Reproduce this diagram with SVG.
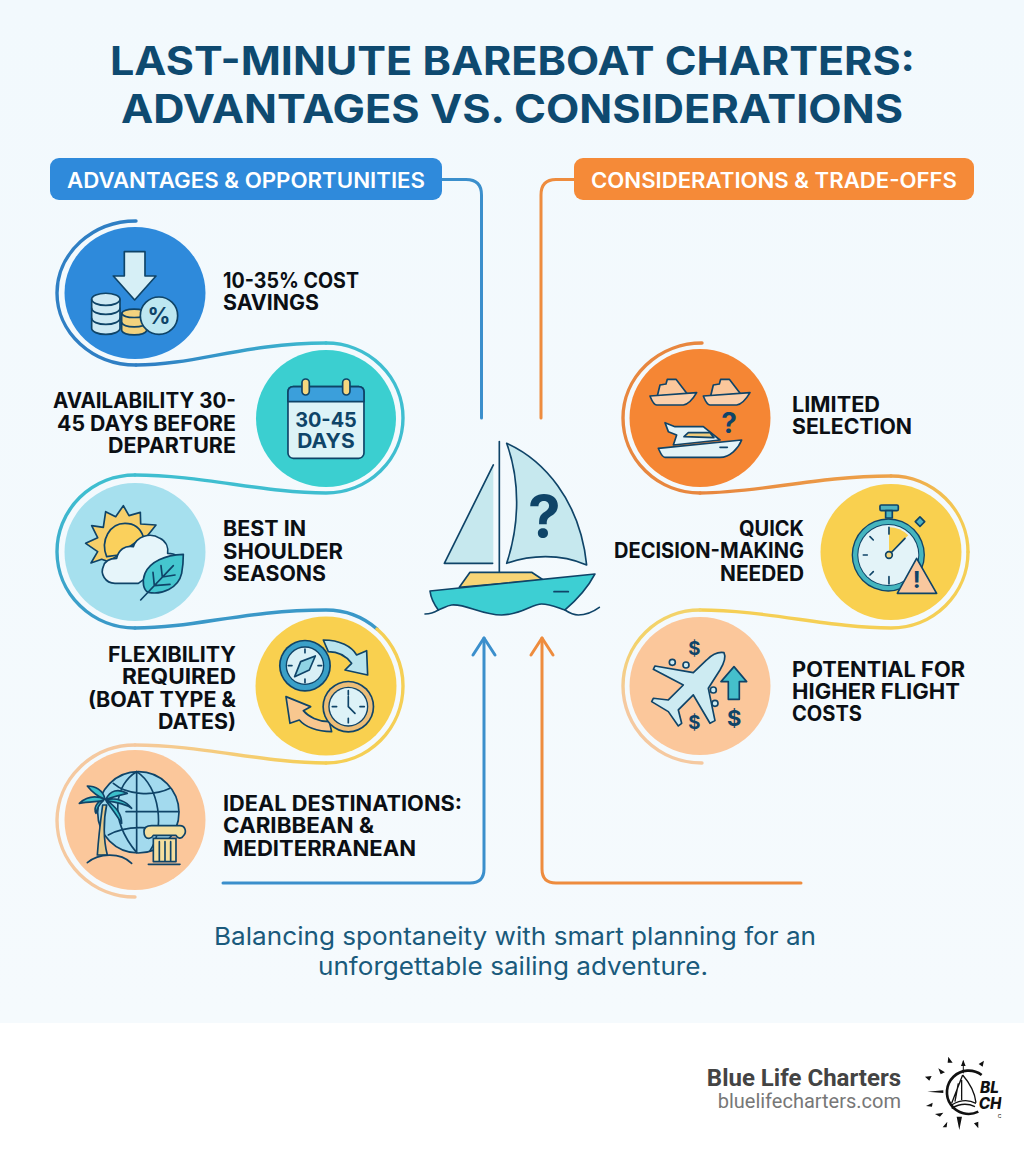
<svg xmlns="http://www.w3.org/2000/svg" width="1024" height="1154" viewBox="0 0 1024 1154">
<style>
text{font-family:"Inter","Liberation Sans",sans-serif}
.title{font-size:39px;font-weight:700;fill:#0E4A70;text-anchor:middle}
.hd{font-size:21px;font-weight:600;fill:#fff;text-anchor:middle}
.it{font-size:21px;font-weight:700;fill:#0B0F14}
.r{text-anchor:end}
.sub{font-size:24.5px;font-weight:400;fill:#1A5A7C;text-anchor:middle}
.rb{fill:none;stroke-width:3.4;stroke-linecap:round}
.cn{fill:none;stroke-width:3;stroke-linecap:round;stroke-linejoin:round}
.n{stroke:#0F4468;stroke-width:5;stroke-linejoin:round;stroke-linecap:round}
.nf{fill:none}
.lb{fill:#D6EFF6}
.ic{fill:#0F4468;font-weight:700;text-anchor:middle}
.f{font-family:Roboto,"Liberation Sans",sans-serif;text-anchor:end}
</style>
<defs>
<linearGradient id="bg" x1="0" y1="0" x2="0" y2="1"><stop offset="0" stop-color="#F2F9FD"/><stop offset="1" stop-color="#F5FAFD"/></linearGradient>
<linearGradient id="g1" gradientUnits="userSpaceOnUse" x1="150" y1="0" x2="330" y2="0"><stop offset="0" stop-color="#2F7FC4"/><stop offset="1" stop-color="#3FBED0"/></linearGradient>
<linearGradient id="g2" gradientUnits="userSpaceOnUse" x1="0" y1="490" x2="0" y2="630"><stop offset="0" stop-color="#3FBED0"/><stop offset="1" stop-color="#3A98C8"/></linearGradient>
<linearGradient id="g3" gradientUnits="userSpaceOnUse" x1="320" y1="0" x2="130" y2="0"><stop offset="0" stop-color="#F5CF55"/><stop offset="1" stop-color="#F5C9A0"/></linearGradient>
<linearGradient id="g4" gradientUnits="userSpaceOnUse" x1="710" y1="0" x2="890" y2="0"><stop offset="0" stop-color="#E8873F"/><stop offset="1" stop-color="#EDA34A"/></linearGradient>
<linearGradient id="g5" gradientUnits="userSpaceOnUse" x1="900" y1="0" x2="968" y2="0"><stop offset="0" stop-color="#EDA34A"/><stop offset="1" stop-color="#F5CF55"/></linearGradient>
<linearGradient id="g6" gradientUnits="userSpaceOnUse" x1="0" y1="640" x2="0" y2="700"><stop offset="0" stop-color="#F3D36A"/><stop offset="1" stop-color="#F5C9A0"/></linearGradient>
<clipPath id="lc"><rect x="700" y="0" width="265" height="330"/></clipPath>
</defs>
<rect id="background" width="1024" height="1023" fill="url(#bg)"/>
<rect id="footer-bg" y="1023" width="1024" height="131" fill="#fff"/>
<g id="title"><text class="title" x="512.5" y="75" textLength="805" lengthAdjust="spacingAndGlyphs">LAST-MINUTE BAREBOAT CHARTERS:</text><text class="title" x="512" y="123" textLength="782" lengthAdjust="spacingAndGlyphs">ADVANTAGES VS. CONSIDERATIONS</text></g>
<g id="connectors">
<path class="cn" stroke="#3B8FCC" d="M442,179.500 H466 Q481.500,179.500 481.500,195 V418"/>
<path class="cn" stroke="#EE8C3E" d="M574,179.500 H556 Q541,179.500 541,195 V418"/>
<path class="cn" stroke="#3B8FCC" d="M223,883 H470 Q484,883 484,869 V638"/>
<path class="cn" stroke="#EE8C3E" d="M801,883 H556 Q542,883 542,869 V638"/>
<path class="cn" stroke="#3B8FCC" d="M473,655 L484,638 L495,655"/>
<path class="cn" stroke="#EE8C3E" d="M531,655 L542,638 L553,655"/>
</g>
<g id="ribbon-left">
<path class="rb" stroke="#2F7FC4" d="M136,221 A79,72 0 0 0 57,293 A79,72 0 0 0 136,365"/>
<path class="rb" stroke="url(#g1)" d="M136,365 C195,365 245,343 326,343"/>
<path class="rb" stroke="#3FBED0" d="M326,343 A77,75 0 0 1 403,418 A77,75 0 0 1 326,493 C265,493 200,475 135,475"/>
<path class="rb" stroke="url(#g2)" d="M135,475 A78,76.500 0 0 0 57,552 A78,76.500 0 0 0 135,628"/>
<path class="rb" stroke="#3A98C8" d="M135,628 C195,628 245,610 326,610 A77,76 0 0 1 377,629"/>
<path class="rb" stroke="#F5CF55" d="M377,629 A77,76 0 0 1 403,686 A77,77 0 0 1 326,763"/>
<path class="rb" stroke="url(#g3)" d="M326,763 C265,763 200,745 135,745"/>
<path class="rb" stroke="#F5C9A0" d="M135,745 A78,76 0 0 0 57,820 A78,77 0 0 0 135,897"/>
</g>
<g id="ribbon-right">
<path class="rb" stroke="#E8873F" d="M702,343 A79,75 0 0 0 623,418 A77,75 0 0 0 700,493"/>
<path class="rb" stroke="url(#g4)" d="M700,493 C760,493 815,476 891,476"/>
<path class="rb" stroke="url(#g5)" d="M891,476 A77,76 0 0 1 968,552"/>
<path class="rb" stroke="#F5CF55" d="M968,552 A77,76 0 0 1 891,628 C830,628 765,610 700,610"/>
<path class="rb" stroke="url(#g6)" d="M700,610 A77,76 0 0 0 623,686 A79,77 0 0 0 702,763"/>
</g>
<g id="header-left"><rect x="50" y="158" width="392" height="42" rx="9" fill="#2F8ADB"/><text class="hd" x="246" y="188" textLength="358" lengthAdjust="spacingAndGlyphs">ADVANTAGES &amp; OPPORTUNITIES</text></g>
<g id="header-right"><rect x="574" y="158" width="400" height="42" rx="9" fill="#F58A38"/><text class="hd" x="774" y="188" textLength="366" lengthAdjust="spacingAndGlyphs">CONSIDERATIONS &amp; TRADE-OFFS</text></g>

<g id="node-savings">
<ellipse cx="135" cy="293" rx="70.500" ry="66" fill="#2E8ADB"/>
<g transform="translate(40,200) scale(.3333)">
<path class="n lb" d="M253,155 H315 V228 H348 L284,300 L220,228 H253Z"/>
<path class="n" fill="#CDE9F4" d="M155,298 A42,18 0 0 1 240,298 V385 A42,18 0 0 1 155,385Z"/>
<path class="n nf" d="M155,298 A42,18 0 0 0 240,298 M155,325 A42,18 0 0 0 240,325 M155,355 A42,18 0 0 0 240,355"/>
<path class="n" fill="#F2D27E" d="M245,340 A38,15 0 0 1 320,340 V392 A38,15 0 0 1 245,392Z"/>
<path class="n nf" d="M245,340 A38,15 0 0 0 320,340 M245,368 A38,15 0 0 0 320,368"/>
<circle class="n" cx="357" cy="347" r="56" fill="#BDE7F1"/>
<text class="ic" x="357" y="372" font-size="68" font-weight="500">%</text>
</g>
<text class="it" x="223" y="288" textLength="136" lengthAdjust="spacingAndGlyphs">10-35% COST</text><text class="it" x="223" y="310" textLength="96" lengthAdjust="spacingAndGlyphs">SAVINGS</text>
</g>

<g id="node-availability">
<ellipse cx="326" cy="418.500" rx="70" ry="68.500" fill="#3BCFD0"/>
<g transform="translate(40,200) scale(.3333)">
<rect class="n" x="744" y="560" width="228" height="215" rx="16" fill="#DDF3F7"/>
<path class="n" fill="#3B9FDB" d="M744,605 V576 Q744,560 760,560 H956 Q972,560 972,576 V605Z"/>
<rect class="n" x="786" y="537" width="22" height="48" rx="11" fill="#F6D77E"/>
<rect class="n" x="908" y="537" width="22" height="48" rx="11" fill="#F6D77E"/>
<text class="ic" x="858" y="682" font-size="60" textLength="185" lengthAdjust="spacingAndGlyphs">30-45</text>
<text class="ic" x="858" y="745" font-size="60" textLength="172" lengthAdjust="spacingAndGlyphs">DAYS</text>
</g>
<text class="it r" x="236" y="408" textLength="183" lengthAdjust="spacingAndGlyphs">AVAILABILITY 30-</text><text class="it r" x="236" y="431" textLength="179" lengthAdjust="spacingAndGlyphs">45 DAYS BEFORE</text><text class="it r" x="236" y="453" textLength="128" lengthAdjust="spacingAndGlyphs">DEPARTURE</text>
</g>

<g id="node-shoulder">
<ellipse cx="135" cy="552" rx="70.500" ry="69" fill="#A6E0EE"/>
<g transform="translate(75,495) scale(.3333)">
<path class="n" fill="#F6CF6A" d="M145,32 L162,62 L196,52 L197,87 L243,90 L215,125 L100,200 L80,193 L48,204 L68,170 L32,145 L68,128 L50,92 L85,97 L92,50 L122,65Z"/>
<path class="n" fill="#FAD05C" d="M95,185 C75,135 105,85 150,85 C175,85 195,95 205,125 L130,180Z"/>
<path class="n" fill="#E6F5FA" d="M190,265 H120 C90,265 75,235 85,215 C90,195 105,190 125,190 C130,165 150,150 175,155 C185,125 225,110 255,130 C275,140 280,160 278,175 C290,175 300,178 305,182 L190,265Z"/>
<path class="n" fill="#45C6CF" d="M325,178 C270,180 225,200 210,235 C200,260 205,285 220,292 C260,300 310,280 320,235 C325,210 325,190 325,178Z"/>
<path class="n nf" d="M197,315 L295,212 M238,272 L234,232 M262,246 L258,212 M238,272 L285,268 M262,246 L300,240"/>
</g>
<text class="it" x="223" y="536" textLength="83" lengthAdjust="spacingAndGlyphs">BEST IN</text><text class="it" x="223" y="559" textLength="120" lengthAdjust="spacingAndGlyphs">SHOULDER</text><text class="it" x="223" y="581" textLength="103" lengthAdjust="spacingAndGlyphs">SEASONS</text>
</g>

<g id="node-flexibility">
<ellipse cx="326" cy="686" rx="70.500" ry="69.500" fill="#F9D04F"/>
<g transform="translate(40,500) scale(.3333)">
<path class="n" fill="#B9E4EE" d="M850,420 C900,420 935,440 950,465 L980,452 L983,525 L915,510 L935,490 C920,470 895,455 865,455 Z" stroke-width="3"/>
<circle cx="795" cy="497" r="78" fill="#0F4468"/><circle cx="795" cy="497" r="73" fill="#3AA0C8"/><circle cx="795" cy="497" r="58" fill="#0F4468"/><circle cx="795" cy="497" r="54" fill="#D9F0F6"/>
<path d="M826,468 L808,510 L764,530 L782,485Z" class="n" fill="#8FD3E4" stroke-width="3.500"/>
<path class="n nf" d="M795,447 V458 M795,537 V548 M745,497 H756 M834,497 H845" stroke-width="4"/>
<path class="n" fill="#F8C78F" d="M875,695 C830,695 795,680 778,660 L750,670 L738,590 L812,620 L790,632 C805,650 835,665 868,665Z" stroke-width="3"/>
<circle cx="925" cy="620" r="78" fill="#0F4468"/><circle cx="925" cy="620" r="73" fill="#EDBE78"/><circle cx="925" cy="620" r="60" fill="#0F4468"/><circle cx="925" cy="620" r="56" fill="#DDF2F7"/>
<path class="n nf" d="M925,572 V585 M925,655 V668 M877,620 H890 M960,620 H973 M925,590 V620 L945,640" stroke-width="4"/>
</g>
<text class="it r" x="236" y="662" textLength="128" lengthAdjust="spacingAndGlyphs">FLEXIBILITY</text><text class="it r" x="236" y="684" textLength="114" lengthAdjust="spacingAndGlyphs">REQUIRED</text><text class="it r" x="236" y="707" textLength="148" lengthAdjust="spacingAndGlyphs">(BOAT TYPE &amp;</text><text class="it r" x="236" y="729" textLength="78" lengthAdjust="spacingAndGlyphs">DATES)</text>
</g>

<g id="node-destinations">
<ellipse cx="135" cy="820" rx="70.500" ry="70" fill="#FBC79B"/>
<g transform="translate(70,760) scale(.3333)">
<ellipse class="n" cx="205" cy="157" rx="122" ry="122" fill="#A3DAEE"/>
<path class="n nf" d="M200,35 C140,70 110,170 200,278 M200,35 V278 M200,35 C270,80 285,210 240,272 M168,155 H326 M130,70 C170,105 250,110 300,85 M115,225 C170,195 240,200 320,215"/>
<path class="n" fill="#E8C98A" d="M98,135 C92,180 85,240 82,285 H112 C100,240 100,180 110,135Z"/>
<path class="n" fill="#3CC0CB" d="M105,118 C75,105 50,110 28,130 C55,125 85,125 100,122 C85,135 80,150 78,160 C70,145 80,125 100,120 Z M105,118 C100,90 75,78 52,78 C65,95 85,110 105,118Z M108,118 C120,90 145,85 172,100 C150,105 125,112 108,118Z M108,120 C140,110 170,125 185,145 C165,130 130,125 108,122Z M110,122 C130,135 155,155 155,190 C140,165 125,145 110,125Z"/>
<path class="n nf" d="M52,308 C85,280 150,275 185,310"/>
<path class="n" fill="#F4DE9E" d="M250,235 H318 V305 H250Z"/>
<path class="n" fill="#F4DE9E" d="M222,215 C222,200 235,197 245,197 H330 C345,197 352,215 340,228 C335,238 322,236 318,226 H250 C245,236 232,238 226,230 C222,225 222,220 222,215Z"/>
<path class="n nf" d="M235,313 H330 M268,245 V302 M285,245 V302 M302,245 V302"/>
</g>
<text class="it" x="223" y="811" textLength="239" lengthAdjust="spacingAndGlyphs">IDEAL DESTINATIONS:</text><text class="it" x="223" y="833" textLength="151" lengthAdjust="spacingAndGlyphs">CARIBBEAN &amp;</text><text class="it" x="223" y="856" textLength="193" lengthAdjust="spacingAndGlyphs">MEDITERRANEAN</text>
</g>

<g id="node-boat">
<g transform="translate(410,400) scale(.3333)">
<path fill="#C6E8EE" d="M250,195 L103,490 H250Z"/>
<path class="n nf" d="M250,195 L103,490 H248" stroke-width="7"/>
<path class="n nf" d="M268,125 V515" stroke-width="8"/>
<path class="n" fill="#C6E8EE" stroke-width="7" d="M290,130 C400,180 510,300 530,495 C450,460 360,465 290,490 C330,370 330,240 290,130Z"/>
<text class="ic" x="403" y="412" font-size="175" font-weight="800">?</text>
<path class="n" fill="#F8D576" stroke-width="7" d="M148,562 L180,517 H365 L400,540Z"/>
<path class="n" fill="#3DCFD3" stroke-width="7" d="M60,573 L555,522 C530,570 500,600 465,630 C440,622 420,612 395,612 C365,612 335,645 275,645 C215,645 165,610 125,615 C110,617 100,625 85,630 C70,610 62,590 60,573Z"/>
<path class="n nf" stroke-width="7" d="M45,642 C60,642 72,638 85,630 M465,630 C480,640 490,645 505,645 C530,645 550,635 568,622 M432,575 H475"/>
</g>
</g>

<g id="node-selection">
<ellipse cx="700" cy="418" rx="70.500" ry="69" fill="#F58634"/>
<g transform="translate(640,370) scale(.3333)">
<path class="n" fill="#FBC79B" stroke-width="4" d="M52,78 L60,45 L78,42 L82,28 L108,28 L142,72Z"/>
<path class="n" fill="#FBD0AC" stroke-width="4" d="M30,78 L170,68 C160,85 148,103 130,105 H50 C40,105 35,90 30,78Z"/>
<path class="n" fill="#FBC79B" stroke-width="4" d="M212,78 L220,45 L238,42 L242,28 L268,28 L302,72Z"/>
<path class="n" fill="#FBD0AC" stroke-width="4" d="M190,78 L330,68 C320,85 308,103 290,105 H210 C200,105 195,90 190,78Z"/>
<path class="n" fill="#E2F3F8" stroke-width="4.500" d="M100,225 L110,195 L85,185 L75,158 L105,170 H190 L240,210Z"/>
<path class="n" fill="#F0CC7C" stroke-width="3" d="M132,200 L145,188 H210 L222,203Z"/>
<path class="n" fill="#E2F3F8" stroke-width="4.500" d="M55,235 L305,210 C295,235 270,262 240,262 H75 C65,262 60,245 55,235Z"/>
<path class="n nf" stroke-width="3.500" d="M240,232 H262"/>
<text class="ic" x="267" y="188" font-size="84" font-weight="800">?</text>
</g>
<text class="it" x="792" y="412" textLength="88" lengthAdjust="spacingAndGlyphs">LIMITED</text><text class="it" x="792" y="434" textLength="120" lengthAdjust="spacingAndGlyphs">SELECTION</text>
</g>

<g id="node-quick">
<ellipse cx="891" cy="552" rx="70.500" ry="68" fill="#F9D04F"/>
<g transform="translate(600,330) scale(.3333)">
<rect class="n" x="840" y="525" width="55" height="17" rx="4" fill="#4FB3BF" stroke-width="4"/><rect x="857" y="542" width="20" height="22" fill="#4FB3BF" class="n" stroke-width="4"/>
<rect class="n" x="950" y="565" width="20" height="20" fill="#4FB3BF" stroke-width="4" transform="rotate(45 960 575)"/>
<circle cx="865" cy="675" r="110" fill="#0F4468"/><circle cx="865" cy="675" r="106" fill="#45B5BF"/><circle cx="865" cy="675" r="93" fill="#0F4468"/><circle cx="865" cy="675" r="90" fill="#E3F3F8"/>
<path d="M867,675 V592 A84,84 0 0 1 925,616Z" fill="#F8D04F"/>
<path class="n nf" stroke-width="4" d="M867,592 V612 M867,740 V762 M790,675 H802 M810,620 L820,630 M810,735 L820,725 M867,675 L915,625"/>
<circle class="n" cx="867" cy="675" r="10" fill="#F6D77E" stroke-width="4"/>
<path class="n" fill="#F9C79E" stroke-width="5" d="M950,685 L1010,790 H892Z"/>
<text class="ic" x="950" y="775" font-size="70" font-weight="800">!</text>
</g>
<text class="it r" x="804" y="536" textLength="65" lengthAdjust="spacingAndGlyphs">QUICK</text><text class="it r" x="804" y="558" textLength="190" lengthAdjust="spacingAndGlyphs">DECISION-MAKING</text><text class="it r" x="804" y="581" textLength="84" lengthAdjust="spacingAndGlyphs">NEEDED</text>
</g>

<g id="node-flight">
<ellipse cx="700" cy="686" rx="70.500" ry="69" fill="#FBC79B"/>
<g transform="translate(600,330) scale(.3333)">
<circle class="n" cx="217" cy="997" r="9" fill="#CDEBF2" stroke-width="4"/><circle class="n" cx="258" cy="1005" r="9" fill="#CDEBF2" stroke-width="4"/><circle class="n" cx="340" cy="1080" r="9" fill="#CDEBF2" stroke-width="4"/><circle class="n" cx="345" cy="1120" r="9" fill="#CDEBF2" stroke-width="4"/>
<path class="n" fill="#CDEBF2" stroke-width="4.500" d="M372,968 C355,965 335,975 320,990 L280,1028 L165,1008 L160,1018 L250,1065 L205,1110 L160,1105 L155,1115 L205,1145 L235,1188 L245,1180 L235,1140 L280,1095 L330,1180 L345,1172 L325,1075 L360,1020 C372,1000 378,980 372,968Z"/>
<path class="n" fill="#45BFCB" stroke-width="4" d="M402,1010 L440,1055 H418 V1108 H385 V1055 H363Z"/>
<text class="ic" x="283" y="975" font-size="56" font-weight="400">$</text>
<text class="ic" x="283" y="1198" font-size="56" font-weight="400">$</text>
<text class="ic" x="403" y="1187" font-size="66" font-weight="400">$</text>
</g>
<text class="it" x="792" y="677" textLength="173" lengthAdjust="spacingAndGlyphs">POTENTIAL FOR</text><text class="it" x="792" y="699" textLength="168" lengthAdjust="spacingAndGlyphs">HIGHER FLIGHT</text><text class="it" x="792" y="721" textLength="70" lengthAdjust="spacingAndGlyphs">COSTS</text>
</g>

<g id="subtitle"><text class="sub" x="515" y="945" textLength="602" lengthAdjust="spacingAndGlyphs">Balancing spontaneity with smart planning for an</text><text class="sub" x="513" y="975" textLength="390" lengthAdjust="spacingAndGlyphs">unforgettable sailing adventure.</text></g>

<g id="footer">
<text class="f" x="901" y="1086" font-size="24" font-weight="700" fill="#444">Blue Life Charters</text>
<text class="f" x="901" y="1108" font-size="20" fill="#777">bluelifecharters.com</text>
<g transform="translate(680,1040) scale(.3333)" clip-path="url(#lc)">
<path d="M895,215 A65,65 0 1 1 905,105" fill="none" stroke="#111" stroke-width="8"/>
<path fill="#111" d="M805,50 L818,68 L803,68Z M850,60 L857,78 L843,78Z M912,62 L908,80 L896,72Z M735,110 L755,108 L748,122Z M742,155 L790,151 V159Z M738,198 L758,188 L756,200Z M765,222 L790,218 L780,230Z M830,230 H846 L838,270Z M788,262 L802,245 L800,262Z M895,265 L882,250 L895,245Z M775,85 L795,97 L782,103Z"/>
<path d="M850,62 V100" stroke="#111" stroke-width="3"/>
<path d="M848,105 L815,190 M848,105 C870,130 885,160 888,188 M835,130 L825,185 M845,120 L845,180 M815,195 C840,180 865,178 888,190 M815,205 C840,190 860,188 885,200" fill="none" stroke="#111" stroke-width="4"/>
<text x="900" y="158" font-size="46" font-weight="800" font-style="italic" fill="#111">BL</text>
<text x="896" y="208" font-size="46" font-weight="800" font-style="italic" fill="#111">CH</text>
<text x="953" y="234" font-size="16" fill="#111">C</text>
</g>
</g>
</svg>
